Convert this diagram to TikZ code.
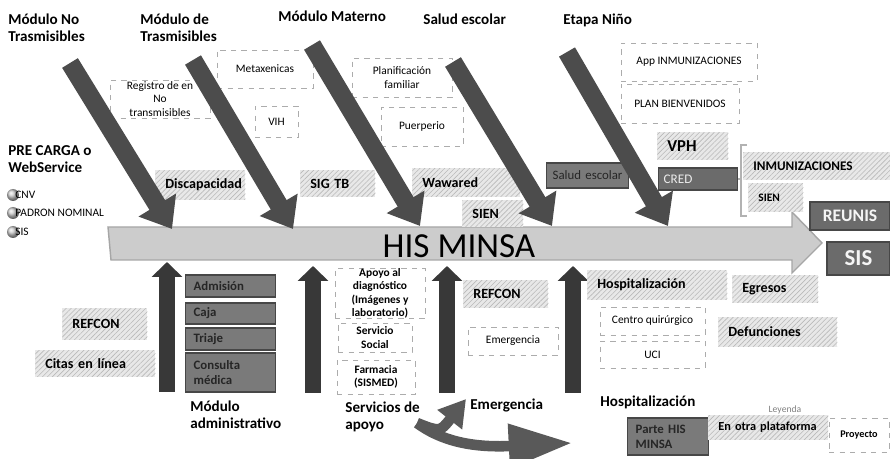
\documentclass[tikz,border=0pt]{standalone}
\usepackage{fontspec}
\setmainfont{Carlito}
\usetikzlibrary{arrows.meta,patterns.meta}

\tikzstyle{title} = [anchor=base west, inner sep=0, align=left, font=\bfseries\fontsize{8.6}{9.8}\selectfont]
\tikzstyle{dashbox} = [draw=gray!65, dashed, fill=white, inner sep=1pt, align=center, font=\fontsize{6.5}{7.8}\selectfont]
\tikzstyle{hatchbox} = [anchor=west, fill=gray!18, postaction={pattern={Lines[angle=45,distance=2pt,line width=0.35pt]}, pattern color=gray!55}, inner xsep=0.2cm, inner ysep=0pt, align=left, font=\bfseries\fontsize{8}{9}\selectfont]
\tikzstyle{darkbox} = [anchor=west, fill=black!52, draw=black!72, line width=0.8pt, inner xsep=0.16cm, inner ysep=0pt, align=left, text=black!85, font=\bfseries\fontsize{7.3}{8.4}\selectfont]
\tikzstyle{bone} = [line width=10.5pt, draw=black!70, -{Triangle[width=24pt,length=16pt]}]
\tikzstyle{rib} = [line width=9pt, draw=black!78, -{Triangle[width=17pt,length=8.5pt]}]
\tikzstyle{swoop} = [line width=6pt, draw=black!65]
\tikzstyle{dot} = [circle, minimum size=0.24cm, inner sep=0, shade, ball color=gray!40]
\tikzstyle{item} = [anchor=west, inner sep=0, font=\fontsize{6.5}{7}\selectfont]

\begin{document}
\begin{tikzpicture}[x=0.02cm, y=-0.02cm]
\useasboundingbox (0,0) rectangle (890,459);

% espina central
\filldraw[fill=gray!40, draw=gray!70, line width=0.8pt] (108,227) -- (792,227) -- (792,212) -- (822,243) -- (792,273) -- (792,260) -- (111,260) -- cycle;
\node[font=\fontsize{20}{24}\selectfont] (his) at (459,246) {HIS MINSA};

% titulos de arriba
\node[title] (t1) at (8,42) {Módulo No\\Trasmisibles};
\node[title] (t2) at (140,42) {Módulo de\\Trasmisibles};
\node[title] (t3) at (278,22) {Módulo Materno};
\node[title] (t4) at (423,25) {Salud escolar};
\node[title] (t5) at (563,25) {Etapa Niño};
\node[title] (pre) at (8,173) {PRE CARGA o\\WebService};

% precarga
\node[dot] (d1) at (13,195) {};
\node[dot] (d2) at (13,213) {};
\node[dot] (d3) at (13,232) {};
\node[item] (cnv) at (15,195) {CNV};
\node[item] (pad) at (15,213) {PADRON NOMINAL};
\node[item] (sis0) at (15,232) {SIS};

% proyectos (arriba)
\node[dashbox, minimum width=2cm, minimum height=0.76cm, inner ysep=0pt] (reg) at (160,99) {Registro de en\\No\\transmisibles};
\node[dashbox, minimum width=1.92cm, minimum height=0.76cm] (meta) at (265,69) {Metaxenicas};
\node[dashbox, minimum width=0.86cm, minimum height=0.62cm] (vih) at (276.5,121.5) {VIH};
\node[dashbox, minimum width=2cm, minimum height=0.78cm] (plan) at (402,77.5) {Planificación\\familiar};
\node[dashbox, minimum width=1.64cm, minimum height=0.78cm] (puer) at (422,126.5) {Puerperio};
\node[dashbox, minimum width=2.72cm, minimum height=0.76cm] (app) at (689,62) {App INMUNIZACIONES};
\node[dashbox, minimum width=2.36cm, minimum height=0.78cm] (bienv) at (680,103.5) {PLAN BIENVENIDOS};

% otras plataformas (arriba)
\node[hatchbox, text width=1.4cm, minimum height=0.6cm] (disc) at (155,185) {Discapacidad};
\node[hatchbox, text width=1.1cm, minimum height=0.54cm] (sigtb) at (300,183.5) {SIG TB};
\node[hatchbox, text width=1.76cm, minimum height=0.58cm] (waw) at (412,182.5) {Wawared};
\node[hatchbox, text width=0.82cm, minimum height=0.54cm] (sien1) at (462,213.5) {SIEN};
\node[hatchbox, text width=1.02cm, minimum height=0.56cm, font=\bfseries\fontsize{9.5}{10}\selectfont] (vph) at (657,146) {VPH};
\node[hatchbox, text width=2.54cm, minimum height=0.56cm, font=\bfseries\fontsize{7.5}{8}\selectfont] (inm) at (743,166) {INMUNIZACIONES};
\node[hatchbox, text width=0.7cm, minimum height=0.58cm, font=\bfseries\fontsize{6.5}{7}\selectfont] (sien2) at (748,197.5) {SIEN};

% partes HIS (arriba)
\node[darkbox, text width=1.4cm, inner xsep=0.12cm, minimum height=0.5cm, font=\fontsize{7.3}{8}\selectfont] (salud) at (546,175.5) {Salud escolar};
\node[darkbox, fill=black!58, text width=1.38cm, inner xsep=0.1cm, minimum height=0.44cm, text=white!85!gray, font=\fontsize{7.5}{8}\selectfont] (cred) at (658,179) {CRED};
\node[darkbox, fill=black!58, anchor=center, align=center, minimum width=1.6cm, minimum height=0.56cm, text=white!92!gray, font=\bfseries\fontsize{10}{11}\selectfont] (reunis) at (850,216) {REUNIS};
\node[darkbox, fill=black!58, anchor=center, align=center, minimum width=1.26cm, minimum height=0.66cm, text=white!92!gray, font=\bfseries\fontsize{13}{14}\selectfont] (sis) at (858.5,258.5) {SIS};

% corchete de CRED
\coordinate (brk) at (741,179);
\draw[gray!60, line width=1.2pt] (747,145) -- (741,145) -- (741,216) -- (747,216);
\draw[gray!60, line width=1.2pt] (cred.east) -- (brk);

% espinas diagonales
\coordinate (b1s) at (70,63);   \coordinate (b1e) at (172,229);
\coordinate (b2s) at (193,60);  \coordinate (b2e) at (293,229);
\coordinate (b3s) at (312,45);  \coordinate (b3e) at (420,226);
\coordinate (b4s) at (453,62);  \coordinate (b4e) at (552,226);
\coordinate (b5s) at (567,52);  \coordinate (b5e) at (668,226);
\draw[bone] (b1s) -- (b1e);
\draw[bone] (b2s) -- (b2e);
\draw[bone] (b3s) -- (b3e);
\draw[bone] (b4s) -- (b4e);
\draw[bone] (b5s) -- (b5e);

% espinas de abajo
\coordinate (r1s) at (167,392); \coordinate (r1e) at (167,262);
\coordinate (r2s) at (313,393); \coordinate (r2e) at (313,266);
\coordinate (r3s) at (447,393); \coordinate (r3e) at (447,266);
\coordinate (r4s) at (573,393); \coordinate (r4e) at (573,266);
\draw[rib] (r1s) -- (r1e);
\draw[rib] (r2s) -- (r2e);
\draw[rib] (r3s) -- (r3e);
\draw[rib] (r4s) -- (r4e);

% modulo administrativo
\node[hatchbox, text width=1.3cm, minimum height=0.64cm] (refc1) at (62,324) {REFCON};
\node[hatchbox, text width=2cm, minimum height=0.54cm] (citas) at (35,363.5) {Citas en línea};
\node[darkbox, text width=1.48cm, minimum height=0.44cm] (adm) at (185,286) {Admisión};
\node[darkbox, text width=1.48cm, minimum height=0.42cm] (caja) at (185,313.5) {Caja};
\node[darkbox, text width=1.48cm, minimum height=0.44cm] (tri) at (185,339) {Triaje};
\node[darkbox, text width=1.48cm, minimum height=0.78cm] (cons) at (185,372.5) {Consulta\\médica};

% servicios de apoyo
\node[dashbox, minimum width=1.8cm, minimum height=0.94cm, inner ysep=0pt, font=\bfseries\fontsize{6.5}{7.6}\selectfont] (apoyo) at (380,293.5) {Apoyo al\\diagnóstico\\(Imágenes y\\laboratorio)};
\node[dashbox, minimum width=1.48cm, minimum height=0.58cm, font=\bfseries\fontsize{6.5}{7.6}\selectfont] (social) at (375,337.5) {Servicio\\Social};
\node[dashbox, minimum width=1.56cm, minimum height=0.68cm, font=\bfseries\fontsize{6.5}{7.6}\selectfont] (farm) at (376,377) {Farmacia\\(SISMED)};

% emergencia
\node[hatchbox, text width=1.3cm, minimum height=0.56cm] (refc2) at (463,294) {REFCON};
\node[dashbox, minimum width=1.8cm, minimum height=0.56cm] (emer) at (513,341) {Emergencia};

% hospitalizacion
\node[hatchbox, text width=2.4cm, minimum height=0.6cm] (hosp) at (587,285) {Hospitalización};
\node[hatchbox, text width=1.32cm, minimum height=0.56cm] (egr) at (732,289) {Egresos};
\node[hatchbox, text width=1.98cm, minimum height=0.6cm] (def) at (718,332) {Defunciones};
\node[dashbox, minimum width=2.1cm, minimum height=0.56cm] (cq) at (652.5,321) {Centro quirúrgico};
\node[dashbox, minimum width=2.1cm, minimum height=0.54cm] (uci) at (652.5,354.5) {UCI};

% titulos de abajo
\node[title] (m1) at (190,429) {Módulo\\administrativo};
\node[title] (m2) at (345,430) {Servicios de\\apoyo};
\node[title] (m3) at (470,410) {Emergencia};
\node[title] (m4) at (600,407) {Hospitalización};

% flechas curvas
\coordinate (c1s) at (417,423); \coordinate (c1e) at (466,399);
\coordinate (c2e) at (572,443);
\draw[swoop, -{Triangle[width=17pt,length=15pt]}] (c1s) .. controls (440,432) .. (c1e);
\draw[swoop, -{Triangle[width=24pt,length=36pt]}] (c1s) .. controls (440,440) and (470,448) .. (c2e);

% leyenda
\node[font=\fontsize{5.5}{6}\selectfont, text=gray] (ley) at (785,410) {Leyenda};
\node[darkbox, text width=1.3cm, minimum height=0.74cm] (parte) at (627,436.5) {Parte HIS\\MINSA};
\node[hatchbox, text width=2cm, minimum height=0.5cm, font=\bfseries\fontsize{7}{8}\selectfont] (otra) at (708,427.5) {En otra plataforma};
\node[dashbox, minimum width=1.2cm, minimum height=0.68cm, font=\bfseries\fontsize{5.8}{6.5}\selectfont] (proy) at (859,435) {Proyecto};
\end{tikzpicture}
\end{document}
